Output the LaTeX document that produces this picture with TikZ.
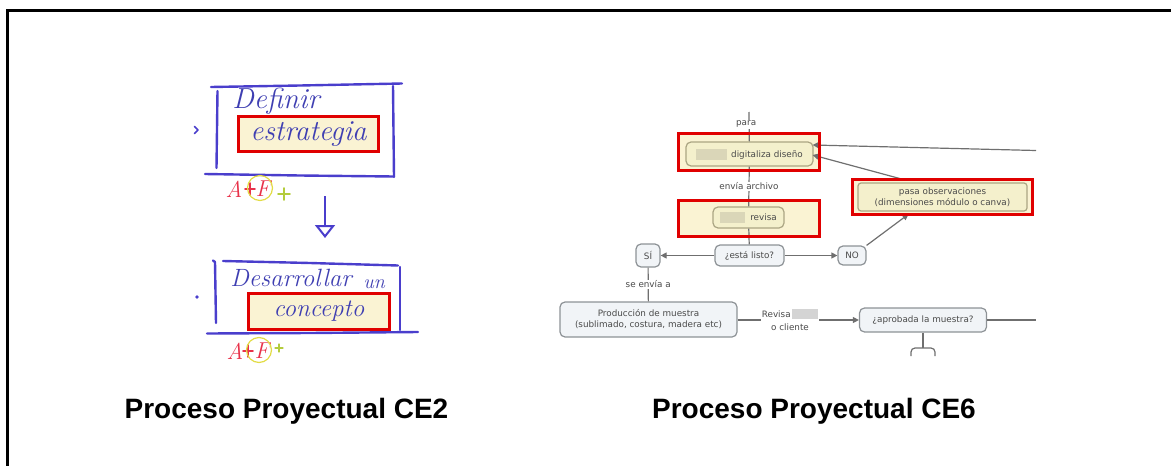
\documentclass[tikz,border=0pt]{standalone}
\usepackage{fontspec}
\newfontfamily\capfont{Liberation Sans}
\newfontfamily\cmapfont{DejaVu Sans}
\usetikzlibrary{arrows.meta}
\definecolor{ink}{HTML}{4A3ECC}
\definecolor{pen}{HTML}{3F3FB2}
\definecolor{redpen}{HTML}{E8324A}
\definecolor{hilite}{HTML}{E2DC46}
\definecolor{greenpen}{HTML}{B4CC3C}
\definecolor{markred}{HTML}{E00000}
\definecolor{cream}{HTML}{FAF3D3}
\definecolor{ynodefill}{HTML}{F4F0CC}
\definecolor{ynodedraw}{HTML}{ABA583}
\definecolor{gnodefill}{HTML}{F1F4F7}
\definecolor{gnodedraw}{HTML}{8D9296}
\definecolor{linkgray}{HTML}{6F6F6F}
\definecolor{cmtext}{HTML}{4A4A4A}
\definecolor{blurblock}{HTML}{DAD6B8}
\definecolor{greyblock}{HTML}{D4D4D4}
\begin{document}
\begin{tikzpicture}[x=1pt,y=-1pt,
  handline/.style={draw=ink,line width=2.4pt,line cap=round},
  handtext/.style={text=pen,font=\itshape\fontsize{29}{31}\selectfont,inner sep=0pt},
  marktext/.style={text=redpen,font=\itshape\fontsize{23}{25}\selectfont,inner sep=0pt},
  markfill/.style={fill=cream,inner sep=0pt},
  markline/.style={draw=markred,line width=3.3pt},
  plusmark/.style={line width=1.6pt,line cap=round},
  cmbase/.style={rounded corners=5pt,line width=1.2pt,inner sep=0pt,text=cmtext,
    font=\cmapfont\fontsize{8.8}{11}\selectfont,align=center},
  cmapy/.style={cmbase,draw=ynodedraw,fill=ynodefill},
  cmapg/.style={cmbase,draw=gnodedraw,fill=gnodefill},
  cmlabel/.style={fill=white,inner sep=1pt,text=cmtext,
    font=\cmapfont\fontsize{8.8}{12.5}\selectfont,align=center},
  link/.style={draw=linkgray,line width=1.2pt},
  arr/.style={link,-{Triangle[length=6pt,width=6pt]}},
  caption/.style={font=\capfont\bfseries\fontsize{28}{32}\selectfont,anchor=base,inner sep=0pt}
]
\useasboundingbox (0,0) rectangle (1171,466);

% frame
\draw[line width=3pt] (7.5,466) -- (7.5,10) -- (1171,10);

% ---------- left: hand-drawn process ----------
% highlight boxes (fill first)
\node[markfill,minimum width=139pt,minimum height=34pt] (est) at (308.5,134) {};
\node[markfill,minimum width=140pt,minimum height=35pt] (con) at (319,311.5) {};

% box "Definir estrategia"
\draw[handline] (211,87) -- (300,85.5) -- (402,83.5);
\draw[handline] (217.5,91) -- (216.5,168);
\draw[handline] (393,86) -- (394,177);
\draw[handline] (205,174) -- (300,175.5) -- (394,176.5);
\node[handtext] (def) at (276,101) {Definir};
\node[handtext] at (est.center) {estrategia};
\draw[draw=ink,line width=1.6pt,line cap=round,line join=round] (194.5,126.5) -- (198,130) -- (194.5,133.5);

% A+F+ mark
\node[marktext] (af1a) at (234,189) {A};
\draw[plusmark,redpen] (245,189) -- (255,189) (250,183) -- (250,195);
\node[marktext] (af1f) at (263,189) {F};
\draw[hilite,line width=1.2pt] (260,188) circle[radius=12.5];
\draw[plusmark,greenpen] (278,194) -- (290,194) (284,188) -- (284,200);

% arrow between the boxes
\coordinate (a1) at (325,196);
\coordinate (a2) at (325,238);
\draw[draw=ink,line width=2.2pt,-{Triangle[open,length=13pt,width=20pt,line width=2pt]}] (a1) -- (a2);

% box "Desarrollar un concepto"
\draw[handline] (213,260.5) -- (215,262);
\draw[handline] (223,261) -- (310,263) -- (398,265.5);
\draw[handline] (215,262) -- (216,323);
\draw[handline] (400,267) -- (400,330);
\draw[handline] (207,333.5) -- (310,333) -- (418,332);
\node[handtext,font=\itshape\fontsize{25}{27}\selectfont] (des) at (291,278) {Desarrollar};
\node[handtext,font=\itshape\fontsize{20}{22}\selectfont] (un) at (374,284) {un};
\node[handtext,font=\itshape\fontsize{25}{27}\selectfont] at (con.center) {concepto};
\fill[ink] (197,297) circle[radius=1.8];

\node[marktext] (af2a) at (235,351) {A};
\draw[plusmark,redpen] (243,351) -- (253,351) (248,345) -- (248,357);
\node[marktext] (af2f) at (262,351) {F};
\draw[hilite,line width=1.2pt] (259,350) circle[radius=12.5];
\draw[plusmark,greenpen,line width=1.3pt] (275,348) -- (283,348) (279,344) -- (279,352);

% ---------- right: concept map ----------
\node[markfill,minimum width=140pt,minimum height=36pt] (rb1) at (749,152) {};
\node[markfill,minimum width=140pt,minimum height=35pt] (rb2) at (749,218.5) {};
\node[markfill,minimum width=179pt,minimum height=34pt] (rb3) at (942.5,197) {};

\coordinate (ptop) at (749,112);
\coordinate (rend1) at (1036,150.5);
\coordinate (rend2) at (1036,320);

\node[cmapy,minimum width=127pt,minimum height=24pt] (dig) at (749.5,154)
  {{\color{blurblock}\rule[-2.5pt]{31pt}{11pt}}\hspace{4pt}digitaliza diseño};
\node[cmapy,minimum width=71pt,minimum height=21pt] (rev) at (748.5,217.5)
  {{\color{blurblock}\rule[-2.5pt]{25pt}{11pt}}\hspace{5pt}revisa};
\node[cmapy,minimum width=169pt,minimum height=28pt,rounded corners=3pt] (obs) at (942.5,197)
  {pasa observaciones\\(dimensiones módulo o canva)};
\node[cmapg,minimum width=69pt,minimum height=21pt] (esta) at (749.5,255.5) {¿está listo?};
\node[cmapg,minimum width=24pt,minimum height=23pt] (si) at (648,255.5) {SÍ};
\node[cmapg,minimum width=28pt,minimum height=19pt] (no) at (852,255.5) {NO};
\node[cmapg,minimum width=177pt,minimum height=35pt] (prod) at (648.5,319.5)
  {Producción de muestra\\(sublimado, costura, madera etc)};
\node[cmapg,minimum width=127pt,minimum height=24pt] (aprob) at (923,320) {¿aprobada la muestra?};

% links
\draw[link] (ptop) -- node[cmlabel,pos=0.42,xshift=-3pt] (lpara) {para} (dig);
\draw[link] (dig) -- node[cmlabel] (lenv) {envía archivo} (rev);
\draw[link] (rev) -- (esta);
\draw[arr] (esta) -- (si);
\draw[arr] (esta) -- (no);
\draw[arr] (no.north east) -- ([xshift=-34pt]rb3.south);
\draw[arr] (rend1) -- ([xshift=-1pt,yshift=9pt]dig.east);
\draw[arr] ([xshift=-38pt]rb3.north) -- ([xshift=-1pt,yshift=-1pt]dig.east);
\draw[link] (si) -- node[cmlabel] (lse) {se envía a} (prod);
\node[cmlabel] (lrev) at (790,320) {Revisa\,{\color{greyblock}\rule[-1.5pt]{26pt}{10pt}}\\o cliente};
\draw[link] (prod.east |- lrev.west) -- (lrev.west);
\draw[arr] (lrev.east) -- (aprob.west);
\draw[link] (aprob.east) -- (rend2);
\coordinate (bnext) at (923,348);
\draw[link] (aprob.south) -- (bnext);
\draw[link,rounded corners=4pt] (911,356) |- (bnext) -| (935,356);

% highlight outlines on top
\foreach \n in {est,con,rb1,rb2,rb3}
  \draw[markline] (\n.south west) rectangle (\n.north east);

% captions
\node[caption] (cap2) at (286.5,418) {Proceso Proyectual CE2};
\node[caption] (cap6) at (814,418) {Proceso Proyectual CE6};
\end{tikzpicture}
\end{document}
